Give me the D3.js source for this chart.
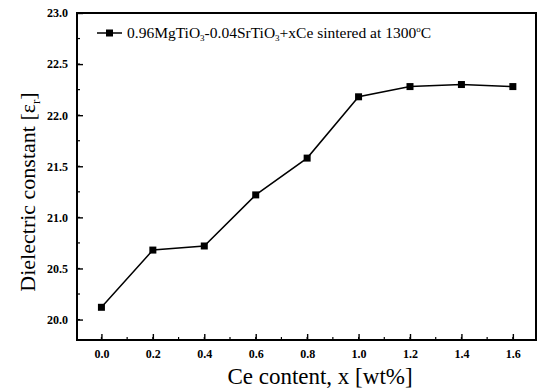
<!DOCTYPE html>
<html>
<head>
<meta charset="utf-8">
<script src="https://cdn.jsdelivr.net/npm/d3@7"></script>
<style>
  body { margin: 0; background: #fff; }
  text { font-family: "Liberation Serif", "DejaVu Serif", serif; fill: #000; }
</style>
</head>
<body>
<svg width="538" height="389"></svg>
<script>
var ceContent = [0.0, 0.2, 0.4, 0.6, 0.8, 1.0, 1.2, 1.4, 1.6];
var dielectric = [20.12, 20.68, 20.72, 21.22, 21.58, 22.18, 22.28, 22.30, 22.28];
var xTicks = [0.0, 0.2, 0.4, 0.6, 0.8, 1.0, 1.2, 1.4, 1.6];
var yTicks = [20.0, 20.5, 21.0, 21.5, 22.0, 22.5, 23.0];

var svg = d3.select("svg"),
    margin = { top: 13, right: 2, bottom: 49, left: 77 },
    width = +svg.attr("width") - margin.left - margin.right,
    height = +svg.attr("height") - margin.top - margin.bottom;

var x = d3.scaleLinear().domain([-0.095, 1.69]).range([0, width]),
    y = d3.scaleLinear().domain([19.8, 23.0]).range([height, 0]);

var g = svg.append("g")
    .attr("transform", "translate(" + margin.left + "," + margin.top + ")");

// minor ticks
var xMinor = d3.range(0, 17).map(function(i) { return i / 10; });
var yMinor = d3.range(0, 13).map(function(i) { return 20 + i * 0.25; });

g.selectAll(".xminor").data(xMinor).enter().append("line")
    .attr("x1", function(d) { return x(d); })
    .attr("x2", function(d) { return x(d); })
    .attr("y1", height).attr("y2", height - 3)
    .style("stroke", "#000").style("stroke-width", 1.2);

g.selectAll(".yminor").data(yMinor).enter().append("line")
    .attr("x1", 0).attr("x2", 3)
    .attr("y1", function(d) { return y(d); })
    .attr("y2", function(d) { return y(d); })
    .style("stroke", "#000").style("stroke-width", 1.2);

var xAxis = d3.axisBottom(x).tickValues(xTicks).tickSizeInner(-6).tickSizeOuter(0).tickPadding(9)
    .tickFormat(d3.format(".1f"));
var yAxis = d3.axisLeft(y).tickValues(yTicks).tickSizeInner(-6).tickSizeOuter(0).tickPadding(9)
    .tickFormat(d3.format(".1f"));

var gx = g.append("g")
    .attr("transform", "translate(0," + height + ")")
    .call(xAxis);
var gy = g.append("g").call(yAxis);

[gx, gy].forEach(function(a) {
    a.select(".domain").remove();
    a.selectAll(".tick line").style("stroke", "#000").style("stroke-width", 1.4);
    a.selectAll(".tick text")
        .style("font-family", "Liberation Serif, serif")
        .style("font-weight", "bold")
        .style("font-size", "12px");
});
gx.selectAll(".tick line").attr("y1", 0);

// frame
g.append("rect")
    .attr("width", width)
    .attr("height", height)
    .style("fill", "none")
    .style("stroke", "#000")
    .style("stroke-width", 2);

var line = d3.line()
    .x(function(d, i) { return x(ceContent[i]); })
    .y(function(d) { return y(d); });

g.append("path")
    .datum(dielectric)
    .attr("d", line)
    .style("fill", "none")
    .style("stroke", "#000")
    .style("stroke-width", 1.5);

g.selectAll(".pt").data(dielectric).enter().append("rect")
    .attr("x", function(d, i) { return x(ceContent[i]) - 3.5; })
    .attr("y", function(d) { return y(d) - 3.5; })
    .attr("width", 7).attr("height", 7)
    .style("fill", "#000");

// legend
var leg = svg.append("g").attr("transform", "translate(97,33)");
leg.append("line").attr("x1", 0).attr("x2", 25).attr("y1", 0).attr("y2", 0)
    .style("stroke", "#000").style("stroke-width", 1.5);
leg.append("rect").attr("x", 9).attr("y", -3.5).attr("width", 7).attr("height", 7)
    .style("fill", "#000");
var lt = leg.append("text").attr("x", 30).attr("y", 5).style("font-size", "15.5px");
lt.append("tspan").text("0.96MgTiO");
lt.append("tspan").attr("dy", 3).style("font-size", "9px").text("3");
lt.append("tspan").attr("dy", -3).text("-0.04SrTiO");
lt.append("tspan").attr("dy", 3).style("font-size", "9px").text("3");
lt.append("tspan").attr("dy", -3).text("+xCe sintered at 1300");
lt.append("tspan").attr("dy", -6).style("font-size", "9px").text("o");
lt.append("tspan").attr("dy", 6).text("C");

// axis titles
svg.append("text")
    .attr("x", 320)
    .attr("y", 384)
    .attr("text-anchor", "middle")
    .style("font-size", "23px")
    .text("Ce content, x [wt%]");

var yt = svg.append("text")
    .attr("transform", "translate(35,192) rotate(-90)")
    .attr("text-anchor", "middle")
    .style("font-size", "22px");
yt.append("tspan").text("Dielectric constant [ε");
yt.append("tspan").attr("dy", 5).style("font-size", "13px").text("r");
yt.append("tspan").attr("dy", -5).text("]");
</script>
</body>
</html>
